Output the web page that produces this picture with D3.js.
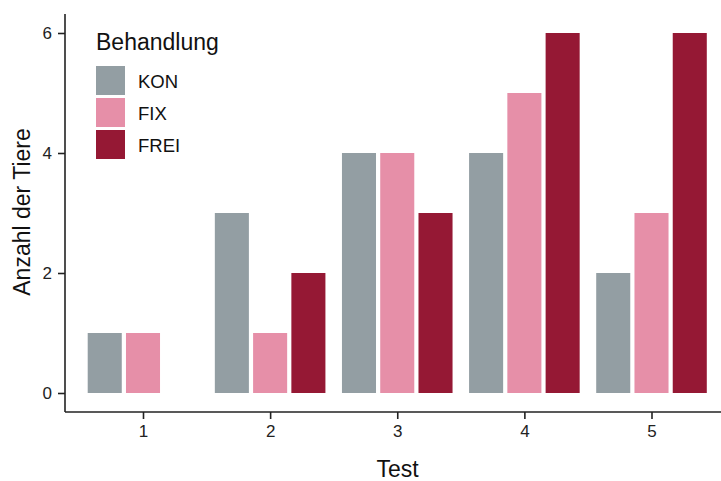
<!DOCTYPE html>
<html>
<head>
<meta charset="utf-8">
<script src="https://cdn.jsdelivr.net/npm/d3@7"></script>
<style>
  html, body { margin: 0; padding: 0; background: #fff; }
  svg { display: block; font-family: "Liberation Sans", Arial, sans-serif; }
</style>
</head>
<body>
<svg id="chart" width="721" height="481"></svg>
<script>
// Number of animals per test and treatment group
const tests = ["1", "2", "3", "4", "5"];
const groups = ["KON", "FIX", "FREI"];
const valuesKON  = [1, 3, 4, 4, 2];
const valuesFIX  = [1, 1, 4, 5, 3];
const valuesFREI = [0, 2, 3, 6, 6];
const yTicks = [0, 2, 4, 6];
const groupColors = ["#939ea3", "#e68fa8", "#951834"];

const seriesValues = [valuesKON, valuesFIX, valuesFREI];
const rows = [];
tests.forEach((t, i) => {
  groups.forEach((g, j) => rows.push({ test: t, group: g, value: seriesValues[j][i] }));
});

const svg = d3.select("#chart");
const panel = { left: 66, right: 728, top: 15, bottom: 411 };

// Category centres, with 0.6 of a step of padding on either side
const x = d3.scalePoint()
  .domain(tests)
  .range([143, 651.5]);
const step = x.step();

// Dodged bars inside each category
const xInner = d3.scaleBand()
  .domain(groups)
  .range([-0.45 * step, 0.45 * step])
  .paddingInner(0.11)
  .paddingOuter(0.05);

const y = d3.scaleLinear()
  .domain([-0.3, 6.3])
  .range([panel.bottom, panel.top]);

const color = d3.scaleOrdinal().domain(groups).range(groupColors);

// Bars
svg.append("g")
  .selectAll("rect")
  .data(rows.filter(d => d.value > 0))
  .join("rect")
  .attr("x", d => x(d.test) + xInner(d.group))
  .attr("width", xInner.bandwidth())
  .attr("y", d => y(d.value))
  .attr("height", d => y(0) - y(d.value))
  .attr("fill", d => color(d.group));

// Axes
const xAxis = svg.append("g")
  .attr("transform", `translate(0,${panel.bottom + 1})`)
  .call(d3.axisBottom(x).tickSize(7).tickSizeOuter(0).tickPadding(6));
const yAxis = svg.append("g")
  .attr("transform", `translate(${panel.left - 1},0)`)
  .call(d3.axisLeft(y).tickValues(yTicks).tickFormat(d3.format("d"))
    .tickSize(7).tickSizeOuter(0).tickPadding(6));

[xAxis, yAxis].forEach(a => {
  a.attr("font-size", 17).attr("font-family", "'Liberation Sans', Arial, sans-serif");
  a.select(".domain").attr("stroke", "#222").attr("stroke-width", 1.6);
  a.selectAll(".tick line").attr("stroke", "#222").attr("stroke-width", 1.6);
  a.selectAll(".tick text").attr("fill", "#222");
});
yAxis.select(".domain").attr("d", `M0,${panel.top - 1}V${panel.bottom + 1}`);
xAxis.select(".domain").attr("d", `M${panel.left - 1},0H${panel.right}`);

// Axis titles
svg.append("text")
  .attr("x", 397.5)
  .attr("y", 477)
  .attr("text-anchor", "middle")
  .style("font-size", "23px")
  .attr("fill", "#111")
  .text("Test");

svg.append("text")
  .attr("transform", `translate(30,212) rotate(-90)`)
  .attr("text-anchor", "middle")
  .style("font-size", "23px")
  .attr("fill", "#111")
  .text("Anzahl der Tiere");

// Legend
const legend = svg.append("g").attr("transform", "translate(96,0)");
legend.append("text")
  .attr("x", 0).attr("y", 50)
  .style("font-size", "23px")
  .attr("fill", "#111")
  .text("Behandlung");

const item = legend.selectAll("g.item")
  .data(groups)
  .join("g")
  .attr("class", "item")
  .attr("transform", (d, i) => `translate(0,${66 + i * 32})`);
item.append("rect")
  .attr("width", 29).attr("height", 29)
  .attr("fill", d => color(d));
item.append("text")
  .attr("x", 42).attr("y", 15)
  .attr("dominant-baseline", "central")
  .style("font-size", "18.5px")
  .attr("fill", "#111")
  .text(d => d);
</script>
</body>
</html>
